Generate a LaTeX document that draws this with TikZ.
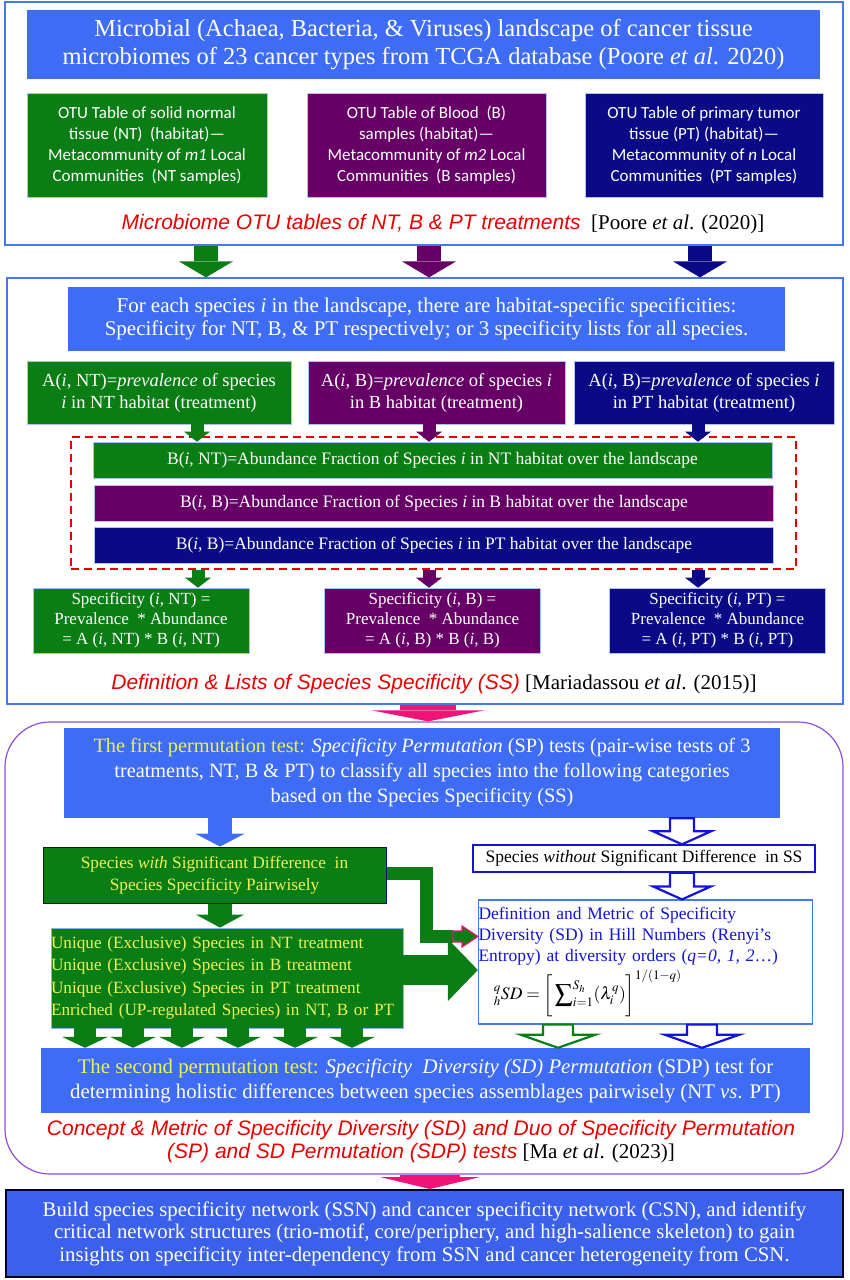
\documentclass[tikz,border=0pt]{standalone}
\usepackage{mathptmx}
\usepackage{fontspec}
\setmainfont{Liberation Serif}
\newfontfamily\calibri{Carlito}
\newfontfamily\arialfont{Liberation Sans}
\usetikzlibrary{arrows.meta,calc}

\definecolor{mainblue}{RGB}{62,108,245}
\definecolor{finalblue}{RGB}{58,96,236}
\definecolor{ntgreen}{RGB}{10,125,20}
\definecolor{bpurple}{RGB}{102,0,102}
\definecolor{ptnavy}{RGB}{10,10,135}
\definecolor{frameblue}{RGB}{70,120,235}
\definecolor{framepurple}{RGB}{140,80,225}
\definecolor{hotpink}{RGB}{240,20,120}
\definecolor{captionred}{RGB}{232,0,0}
\definecolor{testyellow}{RGB}{236,242,90}
\definecolor{metricblue}{RGB}{20,20,215}

\tikzset{
  frame/.style={draw=frameblue, line width=1.2pt},
  box/.style={inner sep=0pt, align=center, text=white},
  bluebox/.style={box, fill=mainblue},
  ntbox/.style={box, fill=ntgreen, draw=frameblue!45, line width=0.6pt},
  bbox/.style={box, fill=bpurple, draw=frameblue!45, line width=0.6pt},
  ptbox/.style={box, fill=ptnavy, draw=frameblue!45, line width=0.6pt},
  otu/.style={font=\calibri\fontsize{17}{21}\selectfont},
  caption/.style={inner sep=0pt, font=\fontsize{21}{23}\selectfont},
  blockarrow/.style n args={4}{draw=#1, line width=#2,
    -{Triangle[width=#3, length=#4, line width=0pt]}},
}
\newcommand{\redcap}[1]{\textcolor{captionred}{\arialfont\itshape #1}}
% hollow block arrow pointing down: colour, x, from, to, shaft half, head half
\newcommand{\hollowdown}[6]{%
  \draw[#1, line width=2.2pt, fill=white, line join=miter]
    ($(#2,0 |- #3)+(-#5,0)$) -- ($(#2,0 |- #3)+(#5,0)$)
    -- ($(#2,0 |- #4)+(#5,-13)$) -- ($(#2,0 |- #4)+(#6,-13)$)
    -- (#2,0 |- #4) -- ($(#2,0 |- #4)+(-#6,-13)$)
    -- ($(#2,0 |- #4)+(-#5,-13)$) -- cycle;}

\begin{document}
\begin{tikzpicture}[x=1pt,y=-1pt]
  \useasboundingbox (0,0) rectangle (849,1280);

  % section 1: landscape and OTU tables
  \node[frame, minimum width=838pt, minimum height=243pt] (sec1) at (424,123.5) {};
  \node[bluebox, minimum width=793pt, minimum height=69pt,
        font=\fontsize{24.5}{27.5}\selectfont] (land) at (423.5,44.5)
    {Microbial (Achaea, Bacteria, \& Viruses) landscape of cancer tissue\\
     microbiomes of 23 cancer types from TCGA database (Poore \textit{et al}. 2020)};
  \node[ntbox, otu, minimum width=240pt, minimum height=104pt] (otuNT) at (147,145)
    {OTU Table of solid normal\\tissue (NT)\ \ (habitat)—\\Metacommunity of \textit{m1} Local\\Communities\ \ (NT samples)};
  \node[bbox, otu, minimum width=239pt, minimum height=104pt] (otuB) at (426.5,145)
    {OTU Table of Blood\ \ (B)\\samples (habitat)—\\Metacommunity of \textit{m2} Local\\Communities\ \ (B samples)};
  \node[ptbox, otu, minimum width=238pt, minimum height=104pt] (otuPT) at (704,145)
    {OTU Table of primary tumor\\tissue (PT) (habitat)—\\Metacommunity of \textit{n} Local\\Communities\ \ (PT samples)};
  \node[caption] (cap1) at (443,224)
    {\redcap{Microbiome OTU tables of NT, B \& PT treatments}\ \ [Poore \textit{et al}. (2020)]};

  % section 2: species specificity
  \node[frame, minimum width=836pt, minimum height=426pt] (sec2) at (425,491) {};
  \node[bluebox, minimum width=717pt, minimum height=64pt,
        font=\fontsize{21}{23}\selectfont] (each) at (426.5,319)
    {For each species \textit{i} in the landscape, there are habitat-specific specificities:\\
     Specificity for NT, B, \& PT respectively; or 3 specificity lists for all species.};
  \begin{scope}[every node/.append style={minimum height=63pt, font=\fontsize{18.5}{22}\selectfont}]
    \node[ntbox, minimum width=264pt] (aNT) at (159,392.5)
      {A(\textit{i}, NT)=\textit{prevalence} of species\\\textit{i} in NT habitat (treatment)};
    \node[bbox, minimum width=257pt] (aB) at (436.5,392.5)
      {A(\textit{i}, B)=\textit{prevalence} of species \textit{i}\\in B habitat (treatment)};
    \node[ptbox, minimum width=260pt] (aPT) at (704,392.5)
      {A(\textit{i}, B)=\textit{prevalence} of species \textit{i}\\in PT habitat (treatment)};
  \end{scope}
  \node[draw=captionred, dash pattern=on 8pt off 5pt, line width=1.3pt,
        minimum width=725pt, minimum height=132pt] (abund) at (433.5,503) {};
  \begin{scope}[every node/.append style={minimum width=679pt, minimum height=36pt, font=\fontsize{17.5}{20}\selectfont}]
    \node[ntbox] (bNT) at (432.5,460)
      {B(\textit{i}, NT)=Abundance Fraction of Species \textit{i} in NT habitat over the landscape};
    \node[bbox] (bB) at (434,503)
      {B(\textit{i}, B)=Abundance Fraction of Species\ \textit{i} in B habitat over the landscape};
    \node[ptbox] (bPT) at (434,545)
      {B(\textit{i}, B)=Abundance Fraction of Species\ \textit{i} in PT habitat over the landscape};
  \end{scope}
  \begin{scope}[every node/.append style={minimum width=216pt, minimum height=65pt, font=\fontsize{17}{20}\selectfont}]
    \node[ntbox] (sNT) at (141,620.5)
      {Specificity (\textit{i}, NT) =\\Prevalence\ \ * Abundance\\= A (\textit{i}, NT) * B (\textit{i}, NT)};
    \node[bbox] (sB) at (432.5,620.5)
      {Specificity (\textit{i}, B) =\\Prevalence\ \ * Abundance\\= A (\textit{i}, B) * B (\textit{i}, B)};
    \node[ptbox] (sPT) at (717.5,620.5)
      {Specificity (\textit{i}, PT) =\\Prevalence\ \ * Abundance\\= A (\textit{i}, PT) * B (\textit{i}, PT)};
  \end{scope}
  \node[caption] (cap2) at (434,684)
    {\redcap{Definition \& Lists of Species Specificity (SS)} [Mariadassou \textit{et al}. (2015)]};

  % section 3: the two permutation tests
  \node[draw=framepurple, line width=1.2pt, rounded corners=45pt,
        minimum width=838pt, minimum height=452pt] (sec3) at (424,948) {};
  \node[bluebox, minimum width=716pt, minimum height=90pt,
        font=\fontsize{20.3}{25}\selectfont] (first) at (422,773)
    {\textcolor{testyellow}{The first permutation test:} \textit{Specificity Permutation} (SP) tests (pair-wise tests of 3\\
     treatments, NT, B \& PT) to classify all species into the following categories\\
     based on the Species Specificity (SS)};
  \node[box, fill=ntgreen, draw=ptnavy, line width=1pt, text=testyellow,
        minimum width=343pt, minimum height=56pt, font=\fontsize{17.3}{22}\selectfont] (with) at (214.5,875)
    {Species \textit{with} Significant Difference\ \ in\\Species Specificity Pairwisely};
  \node[box, fill=ntgreen, draw=frameblue!60, line width=0.8pt, text=testyellow, align=left,
        text width=352pt, minimum height=100pt, font=\fontsize{17.2}{22.5}\selectfont] (unique) at (227,978)
    {Unique (Exclusive) Species in NT treatment\\Unique (Exclusive) Species in B treatment\\
     Unique (Exclusive) Species in PT treatment\\Enriched (UP-regulated Species) in NT, B or PT};
  \node[box, fill=white, draw=metricblue, line width=1.4pt, text=black,
        minimum width=342pt, minimum height=27pt, font=\fontsize{17.5}{20}\selectfont] (without) at (644,858.5)
    {Species \textit{without} Significant Difference\ \ in SS};
  \node[box, fill=white, draw=frameblue, line width=1.2pt, text=black, align=left,
        text width=334pt, minimum height=124pt, font=\fontsize{17.5}{21}\selectfont] (metric) at (645.5,962)
    {\textcolor{metricblue}{Definition and Metric of Specificity\\
     Diversity (SD) in Hill Numbers (Renyi’s\\
     Entropy) at diversity orders (\textit{q=0, 1, 2}…)}\\[3pt]
     \hspace*{14pt}$\displaystyle {}^{\,q}_{\,h}SD=\bigg[\sum\nolimits_{i=1}^{S_h}(\lambda_i^{q})\bigg]^{1/(1-q)}$};
  \node[bluebox, minimum width=769pt, minimum height=65pt,
        font=\fontsize{20.8}{25}\selectfont] (second) at (425.5,1080.5)
    {\textcolor{testyellow}{The second permutation test:} \textit{Specificity\ \ Diversity (SD) Permutation} (SDP) test for\\
     determining holistic differences between species assemblages pairwisely (NT \textit{vs}. PT)};
  \node[caption, align=center] (cap3) at (421,1141.5)
    {\redcap{Concept \& Metric of Specificity Diversity (SD) and Duo of Specificity Permutation}\\
     \redcap{(SP) and SD Permutation (SDP) tests} [Ma \textit{et al}. (2023)]};

  % networks
  \node[box, fill=finalblue, draw=black!85!blue, line width=2pt,
        minimum width=837pt, minimum height=87pt, font=\fontsize{20.8}{22.5}\selectfont] (network) at (424.5,1233.5)
    {Build species specificity network (SSN) and cancer specificity network (CSN), and identify\\
     critical network structures (trio-motif, core/periphery, and high-salience skeleton) to gain\\
     insights on specificity inter-dependency from SSN and cancer heterogeneity from CSN.};

  % block arrows
  \draw[blockarrow={ntgreen}{24pt}{54pt}{16pt}] (206,0 |- sec1.south) -- (206,0 |- sec2.north);
  \draw[blockarrow={bpurple}{24pt}{54pt}{16pt}] (429,0 |- sec1.south) -- (429,0 |- sec2.north);
  \draw[blockarrow={ptnavy}{24pt}{54pt}{16pt}] (700,0 |- sec1.south) -- (700,0 |- sec2.north);
  \draw[blockarrow={ntgreen}{13pt}{26pt}{10pt}] (197,0 |- aNT.south) -- (197,0 |- bNT.north);
  \draw[blockarrow={bpurple}{13pt}{26pt}{10pt}] (429,0 |- aB.south) -- (429,0 |- bNT.north);
  \draw[blockarrow={ptnavy}{13pt}{26pt}{10pt}] (698,0 |- aPT.south) -- (698,0 |- bNT.north);
  \draw[blockarrow={ntgreen}{13pt}{26pt}{10pt}] (198,0 |- abund.south) -- (198,0 |- sNT.north);
  \draw[blockarrow={bpurple}{13pt}{26pt}{10pt}] (429,0 |- abund.south) -- (429,0 |- sB.north);
  \draw[blockarrow={ptnavy}{13pt}{26pt}{10pt}] (698,0 |- abund.south) -- (698,0 |- sPT.north);
  \draw[blockarrow={hotpink}{56pt}{112pt}{11pt}] (428,0 |- sec2.south) -- (428,0 |- sec3.north);
  \draw[blockarrow={mainblue}{24pt}{50pt}{13pt}] (220,0 |- first.south) -- (220,0 |- with.north);
  \hollowdown{metricblue}{682}{first.south}{without.north}{12}{29}
  \draw[blockarrow={ntgreen}{24pt}{48pt}{13pt}] (220,0 |- with.south) -- (220,0 |- unique.north);
  \hollowdown{metricblue}{682}{without.south}{metric.north}{12}{29}
  \draw[ntgreen, line width=13pt, line join=miter] (with.east |- 0,873.5) -| (426.5,936.5) -- (453,936.5);
  \draw[hotpink, line width=1.2pt, fill=ntgreen, line join=miter]
    (453,931) -- (462,931) -- (462,926) -- (metric.west |- 0,936.5) -- (462,947) -- (462,942) -- (453,942) -- cycle;
  \draw[blockarrow={ntgreen}{30pt}{62pt}{30pt}] (unique.east |- 0,970) -- (metric.west |- 0,970);
  \foreach \x in {85,133,182,238,295,352}{
    \draw[blockarrow={ntgreen}{22pt}{46pt}{11pt}] (\x,0 |- unique.south) -- (\x,0 |- second.north);
  }
  \hollowdown{ntgreen}{558}{metric.south}{second.north}{15}{37}
  \hollowdown{metricblue}{702}{metric.south}{second.north}{15}{37}
  \draw[blockarrow={hotpink}{60pt}{100pt}{12pt}] (430,0 |- sec3.south) -- (430,0 |- network.north);
\end{tikzpicture}
\end{document}
